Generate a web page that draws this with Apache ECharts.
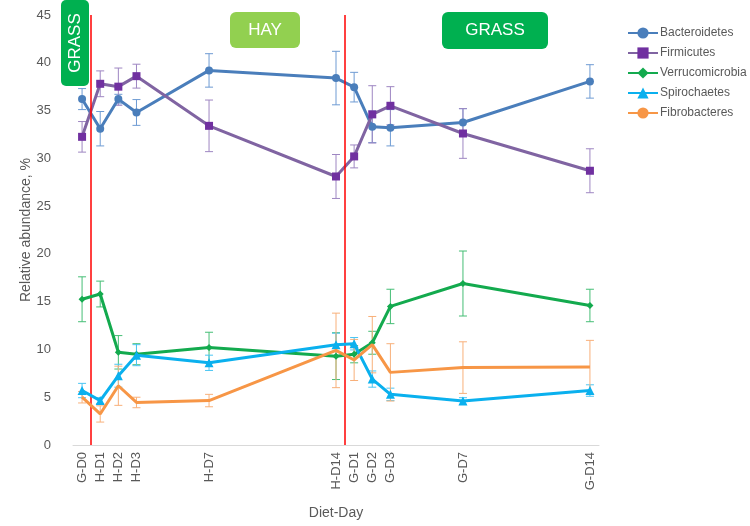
<!DOCTYPE html>
<html><head><meta charset="utf-8">
<script src="https://cdn.jsdelivr.net/npm/echarts@6/dist/echarts.min.js"></script>
<style>html,body{margin:0;padding:0;background:#fff}#c{width:750px;height:526px}</style>
</head><body><div id="c"></div>
<script>
// ---- data ----
const categories = ['G-D0','H-D1','H-D2','H-D3','H-D7','H-D14','G-D1','G-D2','G-D3','G-D7','G-D14'];
const dayPos = [0,1,2,3,7,14,15,16,17,21,28];
const dietChanges = [0.5, 14.5];
const seriesNames = ['Bacteroidetes','Firmicutes','Verrucomicrobia','Spirochaetes','Fibrobacteres'];
const bacteroidetes = [36.2,33.1,36.2,34.8,39.2,38.4,37.45,33.3,33.2,33.75,38.05];
const bacteroidetesErr = [1.1,1.8,0.5,1.35,1.75,2.8,1.55,1.65,1.9,1.45,1.75];
const firmicutes = [32.25,37.8,37.5,38.6,33.4,28.1,30.2,34.6,35.5,32.6,28.7];
const firmicutesErr = [1.6,1.35,1.95,1.25,2.7,2.3,1.2,3.0,2.0,2.6,2.3];
const verrucomicrobia = [15.25,15.8,9.7,9.5,10.2,9.3,9.5,10.7,14.5,16.9,14.6];
const verrucomicrobiaErr = [2.35,1.35,1.75,1.1,1.6,2.45,0.9,1.2,1.8,3.4,1.7];
const spirochaetes = [5.7,4.65,7.25,9.4,8.6,10.5,10.6,6.9,5.3,4.6,5.7];
const spirochaetesErr = [0.75,0.3,1.2,1.1,0.8,1.2,0.65,0.85,0.65,0.35,0.6];
const fibrobacteres = [5.0,3.25,6.2,4.45,4.65,9.9,8.9,10.5,7.6,8.1,8.15];
const fibrobacteresErr = [0.6,0.85,2.05,0.55,0.65,3.9,2.15,2.95,3.0,2.7,2.8];
const yTicks = [0,5,10,15,20,25,30,35,40,45];

// ---- styles ----
const FONT = 'Liberation Sans, Arial, sans-serif';
const TXT = '#595959';
const styles = [
  {line:'#4A7EBB', mark:'#4A7EBB', err:'#6E9BD3', symbol:'circle', size:8},
  {line:'#8064A2', mark:'#7030A0', err:'#9E86C2', symbol:'rect', size:8},
  {line:'#13AA4E', mark:'#13AA4E', err:'#45BE75', symbol:'diamond', size:7},
  {line:'#0AB0EE', mark:'#0AB0EE', err:'#4CC6F3', symbol:'triangle', size:9},
  {line:'#F79646', mark:'#F79646', err:'#F8B07A', symbol:'none', size:0}
];
const values = [bacteroidetes, firmicutes, verrucomicrobia, spirochaetes, fibrobacteres];
const errors = [bacteroidetesErr, firmicutesErr, verrucomicrobiaErr, spirochaetesErr, fibrobacteresErr];

const series = [];
// error bars
values.forEach((vals, k) => {
  series.push({
    type: 'custom', name: seriesNames[k] + ' err', silent: true, z: 1,
    data: vals.map((v, i) => [dayPos[i], v - errors[k][i], v + errors[k][i]]),
    renderItem: function (params, api) {
      const x = api.value(0);
      const lo = api.coord([x, api.value(1)]);
      const hi = api.coord([x, api.value(2)]);
      const w = 4;
      const st = {stroke: styles[k].err, lineWidth: 1};
      return {type: 'group', children: [
        {type: 'line', shape: {x1: lo[0], y1: lo[1], x2: hi[0], y2: hi[1]}, style: st},
        {type: 'line', shape: {x1: lo[0]-w, y1: lo[1], x2: lo[0]+w, y2: lo[1]}, style: st},
        {type: 'line', shape: {x1: hi[0]-w, y1: hi[1], x2: hi[0]+w, y2: hi[1]}, style: st}
      ]};
    }
  });
});
// lines
values.forEach((vals, k) => {
  const s = {
    type: 'line', name: seriesNames[k], z: 3 + k,
    data: vals.map((v, i) => [dayPos[i], v]),
    symbol: styles[k].symbol, symbolSize: styles[k].size, showSymbol: styles[k].symbol !== 'none',
    lineStyle: {color: styles[k].line, width: 3},
    itemStyle: {color: styles[k].mark},
    color: styles[k].line
  };
  if (k === 0) {
    s.markLine = {
      silent: true, symbol: 'none', label: {show: false},
      lineStyle: {color: '#FF0000', width: 1.5, type: 'solid'},
      data: dietChanges.map(d => ({xAxis: d}))
    };
  }
  series.push(s);
});

const chart = echarts.init(document.getElementById('c'));
chart.setOption({
  animation: false,
  textStyle: {fontFamily: FONT},
  grid: {left: 73, right: 151, top: 15, bottom: 81},
  legend: {
    orient: 'vertical', left: 622, top: 22, itemWidth: 30, itemHeight: 14, itemGap: 8,
    data: seriesNames,
    textStyle: {color: TXT, fontSize: 12, fontFamily: FONT, padding: [0, 0, 0, -3]}
  },
  xAxis: {
    type: 'value', min: -0.5, max: 28.5,
    name: 'Diet-Day', nameLocation: 'middle', nameGap: 61, nameMoveOverlap: false,
    nameTextStyle: {color: TXT, fontSize: 14, fontFamily: FONT},
    axisLine: {show: true, lineStyle: {color: '#D9D9D9'}},
    axisTick: {show: false},
    splitLine: {show: false},
    axisLabel: {
      rotate: 90, color: TXT, fontSize: 13, fontFamily: FONT, margin: 7,
      customValues: dayPos,
      formatter: function (v) { const i = dayPos.indexOf(v); return i >= 0 ? categories[i] : ''; }
    }
  },
  yAxis: {
    type: 'value', min: 0, max: 45, interval: 5,
    name: 'Relative abundance, %', nameLocation: 'middle', nameGap: 40, nameMoveOverlap: false,
    nameTextStyle: {color: TXT, fontSize: 14, fontFamily: FONT},
    axisLine: {show: false}, axisTick: {show: false}, splitLine: {show: false},
    axisLabel: {color: TXT, fontSize: 13, fontFamily: FONT, margin: 22,
      customValues: yTicks}
  },
  graphic: [
    {type: 'rect', left: 61, top: 0, shape: {width: 28, height: 86, r: 5}, style: {fill: '#00B050'}, z: 10},
    {type: 'text', x: 75, y: 43, rotation: Math.PI/2, z: 11,
      style: {text: 'GRASS', fill: '#fff', font: '17px ' + FONT, textAlign: 'center', textVerticalAlign: 'middle'}},
    {type: 'rect', left: 230, top: 12, shape: {width: 70, height: 36, r: 6}, style: {fill: '#92D050'}, z: 10},
    {type: 'text', x: 265, y: 30, z: 11,
      style: {text: 'HAY', fill: '#fff', font: '17px ' + FONT, textAlign: 'center', textVerticalAlign: 'middle'}},
    {type: 'rect', left: 442, top: 12, shape: {width: 106, height: 37, r: 6}, style: {fill: '#00B050'}, z: 10},
    {type: 'text', x: 495, y: 30, z: 11,
      style: {text: 'GRASS', fill: '#fff', font: '17px ' + FONT, textAlign: 'center', textVerticalAlign: 'middle'}}
  ],
  series: series
});
</script></body></html>
